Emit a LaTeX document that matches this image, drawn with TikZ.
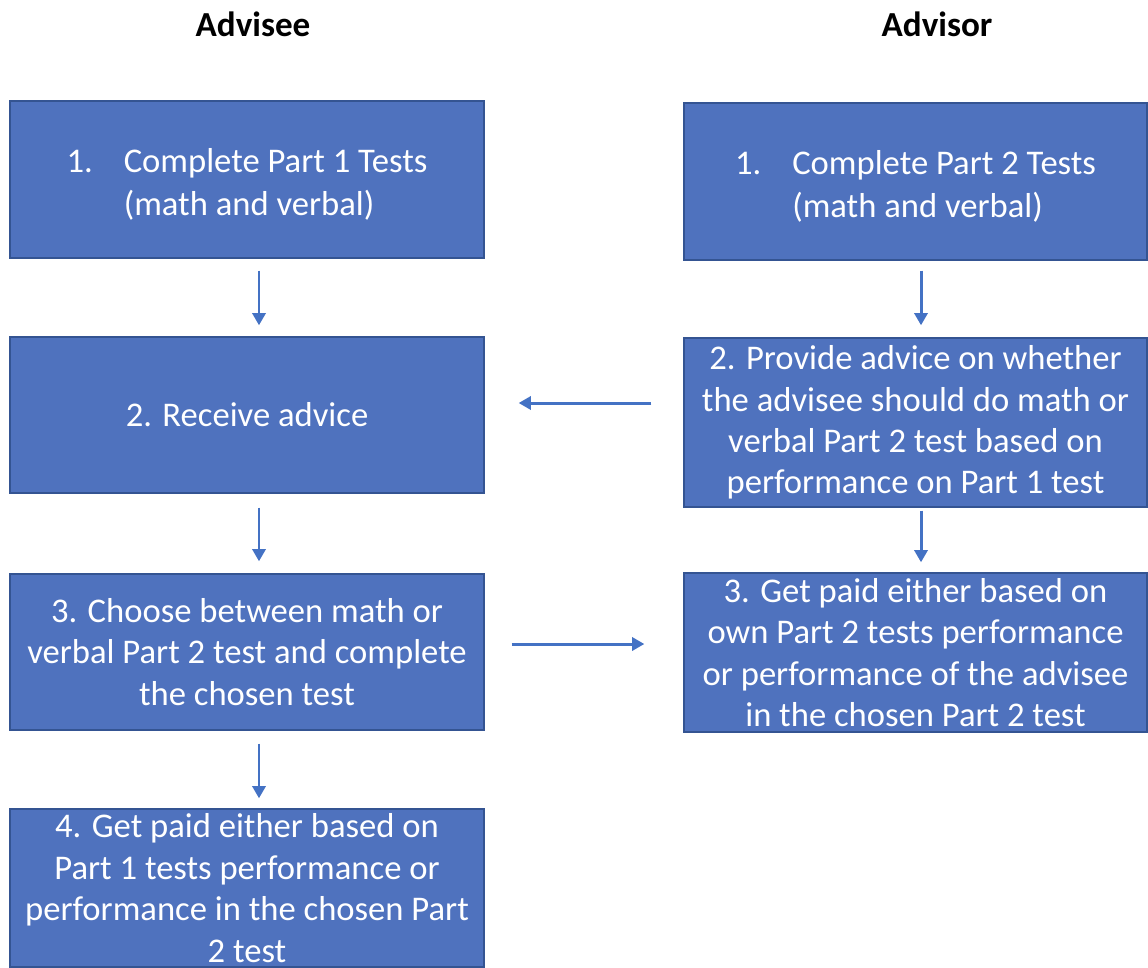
\documentclass[tikz,border=0pt]{standalone}
\usepackage{fontspec}
\setmainfont{Carlito}
\usetikzlibrary{arrows.meta}

\definecolor{stepfill}{RGB}{79,114,190}
\definecolor{stepline}{RGB}{52,84,146}
\definecolor{flowline}{RGB}{68,114,196}

\tikzset{
  stepbox/.style={draw=stepline, line width=0.8pt, fill=stepfill, text=white,
    align=center, inner sep=0pt, font=\fontsize{19.7}{23.6}\selectfont},
  leftbox/.style={stepbox, minimum width=9.48cm},
  rightbox/.style={stepbox, minimum width=9.26cm},
  flow/.style={draw=flowline, line width=1.7pt, -{Triangle[length=7pt,width=7.5pt]}},
  lane/.style={font=\fontsize{20}{24}\selectfont\bfseries}
}
\newcommand{\numbered}[3]{\raisebox{-0.12cm}[\height][\depth]{\begin{tabular}{@{}l@{\hspace{0.62cm}}l@{}}#1 & #2\\[1pt] & #3\end{tabular}}}

\begin{document}
\begin{tikzpicture}[x=0.02cm, y=-0.02cm]
  \useasboundingbox (0,0) rectangle (1148,967);

  % lane titles
  \node[lane] (advisee) at (253,24) {Advisee};
  \node[lane] (advisor) at (937,24) {Advisor};

  % advisee column
  \node[leftbox, minimum height=3.14cm] (ee1) at (247,179.5)
    {\numbered{1.}{Complete Part 1 Tests}{(math and verbal)}};
  \node[leftbox, minimum height=3.12cm] (ee2) at (247,415) {2. Receive advice};
  \node[leftbox, minimum height=3.12cm] (ee3) at (247,652)
    {3. Choose between math or\\verbal Part 2 test and complete\\the chosen test};
  \node[leftbox, minimum height=3.16cm] (ee4) at (247,888)
    {4. Get paid either based on\\Part 1 tests performance or\\performance in the chosen Part\\2 test};

  % advisor column
  \node[rightbox, minimum height=3.14cm] (or1) at (915.5,181.5)
    {\numbered{1.}{Complete Part 2 Tests}{(math and verbal)}};
  \node[rightbox, minimum height=3.38cm] (or2) at (915.5,422.5)
    {2. Provide advice on whether\\the advisee should do math or\\verbal Part 2 test based on\\performance on Part 1 test};
  \node[rightbox, minimum height=3.18cm] (or3) at (915.5,652.5)
    {3. Get paid either based on\\own Part 2 tests performance\\or performance of the advisee\\in the chosen Part 2 test};

  % connectors
  \draw[flow, shorten <=12*0.02cm, shorten >=11*0.02cm] ([xshift=12*0.02cm]ee1.south) -- ([xshift=12*0.02cm]ee2.north);
  \draw[flow, shorten <=14*0.02cm, shorten >=12*0.02cm] ([xshift=12*0.02cm]ee2.south) -- ([xshift=12*0.02cm]ee3.north);
  \draw[flow, shorten <=13*0.02cm, shorten >=10*0.02cm] ([xshift=12*0.02cm]ee3.south) -- ([xshift=12*0.02cm]ee4.north);
  \draw[flow, shorten <=10*0.02cm, shorten >=12*0.02cm] ([xshift=5.5*0.02cm]or1.south) -- ([xshift=5.5*0.02cm]or2.north);
  \draw[flow, shorten <=3*0.02cm, shorten >=10*0.02cm] ([xshift=5.5*0.02cm]or2.south) -- ([xshift=5.5*0.02cm]or3.north);
  \draw[flow, shorten <=32*0.02cm, shorten >=34*0.02cm] (or2.west |- 0,403) -- (ee2.east |- 0,403);
  \draw[flow, shorten <=27*0.02cm, shorten >=39*0.02cm] (ee3.east |- 0,644) -- (or3.west |- 0,644);
\end{tikzpicture}
\end{document}
